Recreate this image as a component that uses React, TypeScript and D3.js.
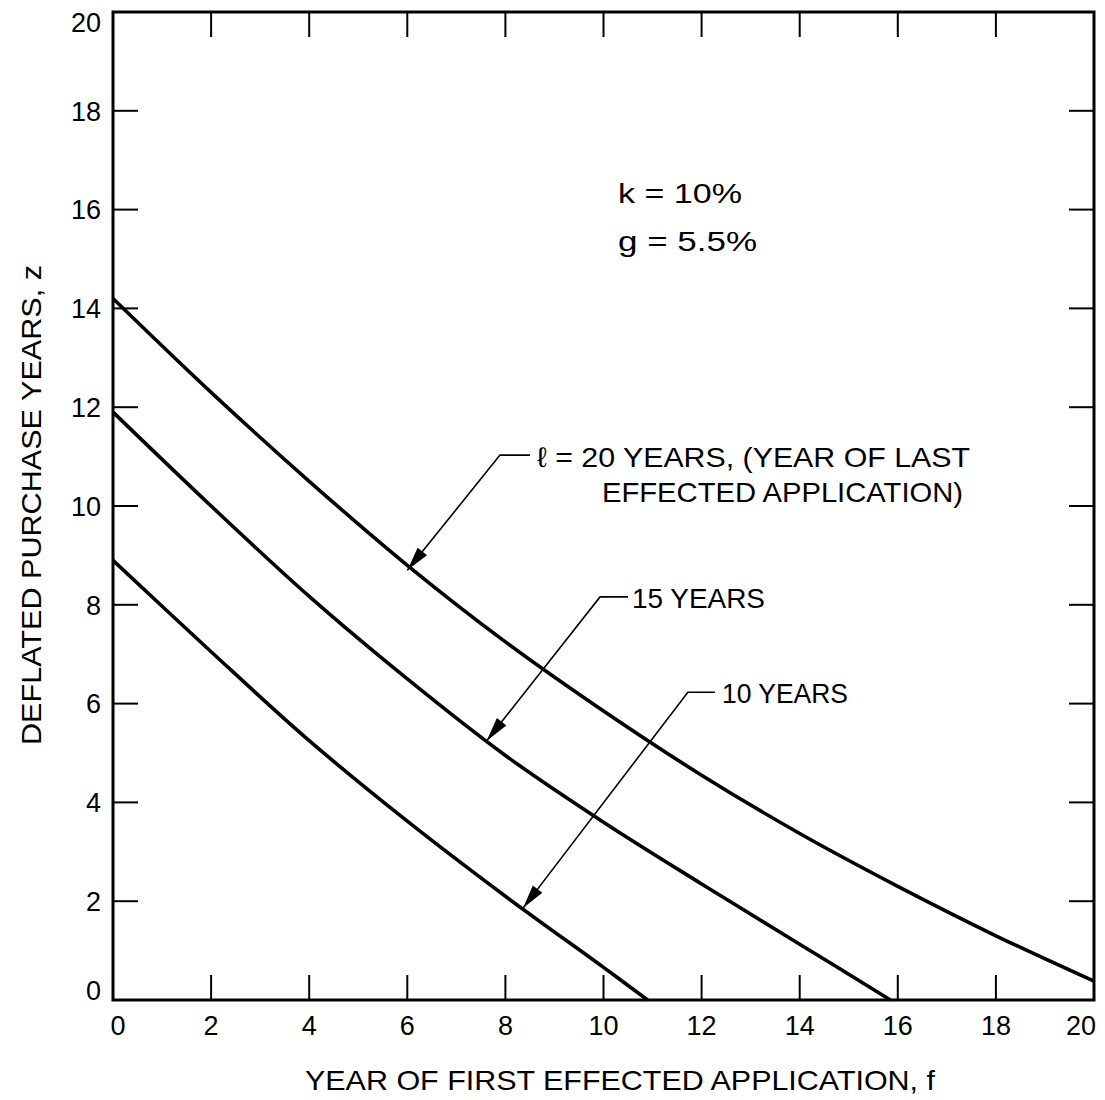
import * as d3 from "d3";

// values: z at year f, one array per last-year l
const f20 = [0, 2, 4, 6, 8, 10, 12, 14, 16, 18, 20];
const z20 = [14.2, 12.3, 10.5, 8.8, 7.25, 5.85, 4.55, 3.37, 2.3, 1.3, 0.38];
const f15 = [0, 2, 4, 6, 8, 10, 12, 14, 15.85];
const z15 = [11.9, 10.0, 8.17, 6.5, 4.95, 3.6, 2.35, 1.13, 0];
const f10 = [0, 2, 4, 6, 8, 10, 10.9];
const z10 = [8.9, 7.05, 5.25, 3.62, 2.1, 0.66, 0];

const xTicks = [0, 2, 4, 6, 8, 10, 12, 14, 16, 18, 20];
const yTicks = [0, 2, 4, 6, 8, 10, 12, 14, 16, 18, 20];

// leader arrows: tip on curve, knee, end of the short horizontal
const leaders = [
  { tip: [6.0, 8.7], knee: [7.89, 11.03], end: [8.5, 11.03] },
  { tip: [7.62, 5.25], knee: [9.93, 8.16], end: [10.5, 8.16] },
  { tip: [8.36, 1.86], knee: [11.72, 6.23], end: [12.27, 6.23] },
];

const font = "'Liberation Sans', Arial, sans-serif";

export default function App() {
  const W = 1105;
  const H = 1100;
  const x = d3.scaleLinear().domain([0, 20]).range([113, 1094]);
  const y = d3.scaleLinear().domain([0, 20]).range([1000, 12]);

  const line = d3
    .line<[number, number]>()
    .x((d) => x(d[0]))
    .y((d) => y(d[1]))
    .curve(d3.curveCatmullRom.alpha(0.5));

  const series = [
    f20.map((f, i) => [f, z20[i]] as [number, number]),
    f15.map((f, i) => [f, z15[i]] as [number, number]),
    f10.map((f, i) => [f, z10[i]] as [number, number]),
  ];

  const tickLen = 25;
  const x0 = x(0), x1 = x(20), y0 = y(0), y1 = y(20);

  const arrowHead = (tip: number[], knee: number[]) => {
    const tx = x(tip[0]), ty = y(tip[1]);
    const kx = x(knee[0]), ky = y(knee[1]);
    const a = Math.atan2(ty - ky, tx - kx);
    const L = 24, hw = 6;
    const bx = tx - L * Math.cos(a), by = ty - L * Math.sin(a);
    const p1 = [bx + hw * Math.sin(a), by - hw * Math.cos(a)];
    const p2 = [bx - hw * Math.sin(a), by + hw * Math.cos(a)];
    return `M${tx},${ty}L${p1[0]},${p1[1]}L${p2[0]},${p2[1]}Z`;
  };

  const xOff = (v: number) => (v === 0 ? 5 : v === 20 ? -13 : 0);
  const yOff = (v: number) => (v === 20 ? 10 : v === 0 ? -10 : 0);

  return (
    <svg
      width={W}
      height={H}
      style={{ position: "absolute", left: 0, top: 0, background: "#fff" }}
      fontFamily={font}
    >
      <rect width={W} height={H} fill="#fff" />

      {/* frame */}
      <rect x={x0} y={y1} width={x1 - x0} height={y0 - y1} fill="none" stroke="#000" strokeWidth={3} />

      {/* inward ticks on all four sides */}
      {xTicks.slice(1, -1).map((t) => (
        <g key={"xt" + t} stroke="#000" strokeWidth={2}>
          <line x1={x(t)} x2={x(t)} y1={y0} y2={y0 - tickLen} />
          <line x1={x(t)} x2={x(t)} y1={y1} y2={y1 + tickLen} />
        </g>
      ))}
      {yTicks.slice(1, -1).map((t) => (
        <g key={"yt" + t} stroke="#000" strokeWidth={2}>
          <line x1={x0} x2={x0 + tickLen} y1={y(t)} y2={y(t)} />
          <line x1={x1} x2={x1 - tickLen} y1={y(t)} y2={y(t)} />
        </g>
      ))}

      {/* tick labels */}
      {xTicks.map((t) => (
        <text key={"xl" + t} x={x(t) + xOff(t)} y={1035} fontSize={27} textAnchor="middle">
          {t}
        </text>
      ))}
      {yTicks.map((t) => (
        <text key={"yl" + t} x={101} y={y(t) + yOff(t)} dy="0.36em" fontSize={27} textAnchor="end">
          {t}
        </text>
      ))}

      {/* curves */}
      {series.map((s, i) => (
        <path key={"c" + i} d={line(s) ?? ""} fill="none" stroke="#000" strokeWidth={3.6} />
      ))}

      {/* leaders */}
      {leaders.map((l, i) => (
        <g key={"ld" + i}>
          <polyline
            points={`${x(l.end[0])},${y(l.end[1])} ${x(l.knee[0])},${y(l.knee[1])} ${x(l.tip[0])},${y(l.tip[1])}`}
            fill="none"
            stroke="#000"
            strokeWidth={1.6}
          />
          <path d={arrowHead(l.tip, l.knee)} fill="#000" />
        </g>
      ))}

      {/* annotation text */}
      <g fontSize={28} style={{ whiteSpace: "pre" }}>
        <text x={537} y={467} textLength={433} lengthAdjust="spacingAndGlyphs">
          {"ℓ = 20  YEARS, (YEAR OF  LAST"}
        </text>
        <text x={602} y={502} textLength={361} lengthAdjust="spacingAndGlyphs">
          EFFECTED APPLICATION)
        </text>
        <text x={632} y={608} textLength={133} lengthAdjust="spacingAndGlyphs">
          15 YEARS
        </text>
        <text x={722} y={703} textLength={126} lengthAdjust="spacingAndGlyphs">
          10 YEARS
        </text>
        <text x={618} y={203} textLength={124} lengthAdjust="spacingAndGlyphs">
          {"k  =  10%"}
        </text>
        <text x={618} y={251} textLength={139} lengthAdjust="spacingAndGlyphs">
          {"g  =  5.5%"}
        </text>
      </g>

      {/* axis titles */}
      <text x={305} y={1090} fontSize={28} textLength={630} lengthAdjust="spacingAndGlyphs">
        YEAR OF  FIRST EFFECTED  APPLICATION, f
      </text>
      <text
        transform="translate(41,745) rotate(-90)"
        fontSize={28}
        textLength={480}
        lengthAdjust="spacingAndGlyphs"
      >
        DEFLATED  PURCHASE YEARS, z
      </text>
    </svg>
  );
}
